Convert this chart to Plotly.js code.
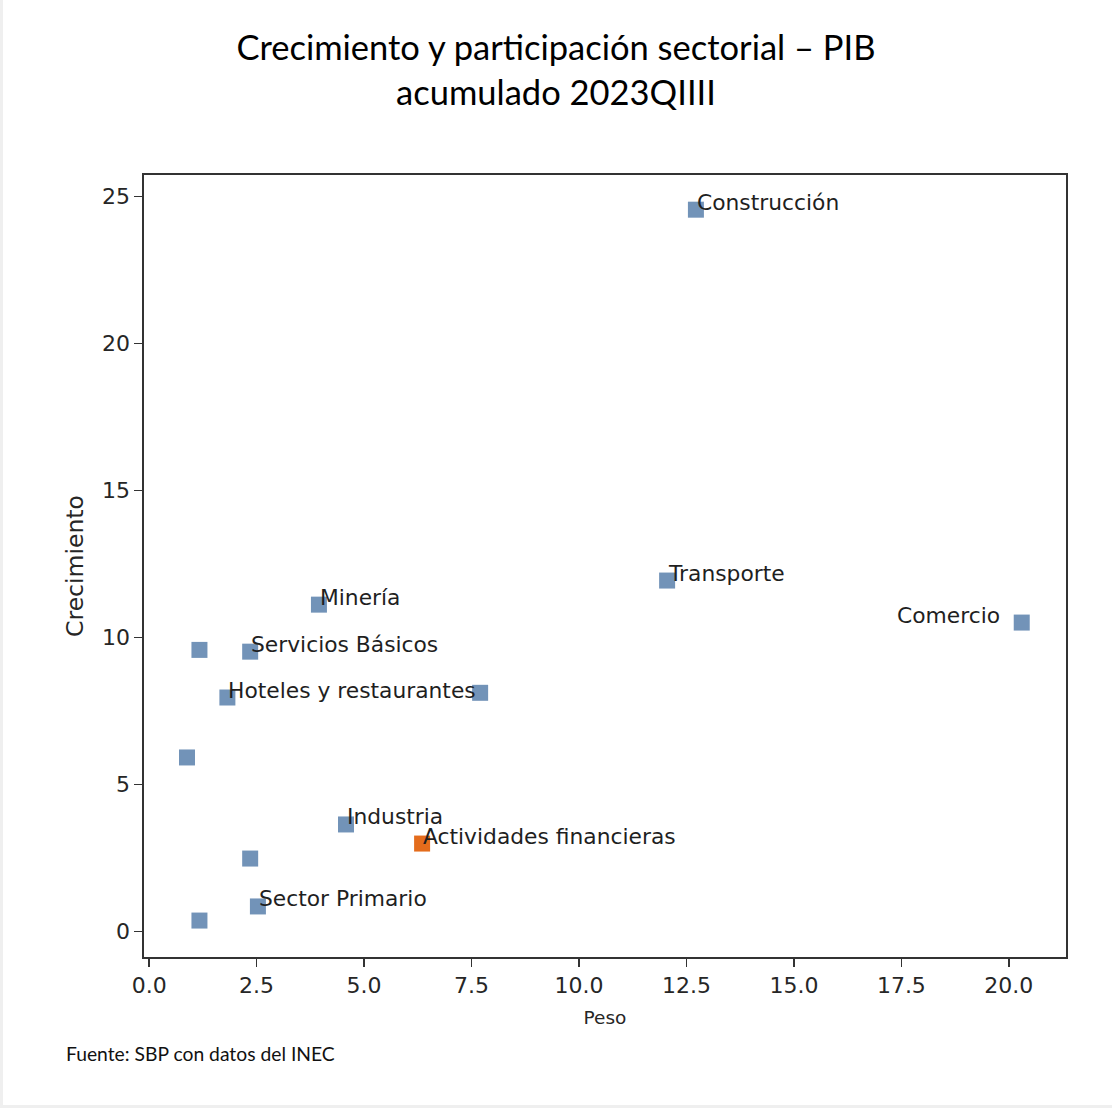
<!DOCTYPE html>
<html>
<head>
<meta charset="utf-8">
<script src="https://cdn.plot.ly/plotly-3.0.1.min.js"></script>
<style>
  html, body { margin: 0; padding: 0; background: #ffffff; }
  #wrap { position: relative; width: 1112px; height: 1108px; }
  #chart { width: 1112px; height: 1108px; }
  #frame { position: absolute; left: 0; top: 0; width: 1109px; height: 1105px;
           border-left: 3px solid #efefef; border-bottom: 3px solid #efefef; pointer-events: none; }
</style>
</head>
<body>
<div id="wrap"><div id="chart"></div><div id="frame"></div></div>
<script>
// ---- data ----
const sectores = ["Construcción", "Transporte", "Comercio", "Minería", "", "Servicios Básicos",
                  "Hoteles y restaurantes", "", "", "Industria", "Actividades financieras", "",
                  "Sector Primario", ""];
const peso = [12.72, 12.05, 20.30, 3.95, 1.17, 2.35, 1.82, 7.70, 0.88, 4.58, 6.35, 2.35, 2.53, 1.17];
const crecimiento = [24.56, 11.94, 10.51, 11.12, 9.58, 9.52, 7.96, 8.12, 5.92, 3.64, 2.99, 2.48, 0.85, 0.37];
const destacado = "Actividades financieras";
const xTicks = [0, 2.5, 5, 7.5, 10, 12.5, 15, 17.5, 20];
const xTickText = ["0.0", "2.5", "5.0", "7.5", "10.0", "12.5", "15.0", "17.5", "20.0"];
const yTicks = [0, 5, 10, 15, 20, 25];
const titulo = "Crecimiento y participación sectorial – PIB<br>acumulado 2023QIIII";
const fuente = "Fuente: SBP con datos del INEC";

// ---- styles ----
const azul = "#7293b8";
const naranja = "#e46c1c";
const txtColor = "#262626";
const lineColor = "#333333";
const labelRight = { "Comercio": true };

const colores = sectores.map(s => s === destacado ? naranja : azul);

const trace = {
  x: peso, y: crecimiento, mode: "markers", type: "scatter",
  marker: { symbol: "square", size: 16, color: colores, line: { width: 0 } },
  hoverinfo: "x+y", showlegend: false
};

const annotations = [];
sectores.forEach((s, i) => {
  if (!s) return;
  const right = !!labelRight[s];
  annotations.push({
    x: peso[i], y: crecimiento[i], xref: "x", yref: "y",
    text: s, showarrow: false,
    xanchor: right ? "right" : "left", yanchor: "bottom",
    xshift: right ? -20 : -1, yshift: -7,
    font: { family: "DejaVu Sans", size: 21.8, color: "#1f1f1f" }
  });
});
annotations.push({
  xref: "paper", yref: "paper", x: -0.0868, y: -0.1228,
  xanchor: "left", yanchor: "middle", showarrow: false,
  text: fuente, font: { family: "Lato, 'Open Sans', sans-serif", size: 19.3, color: "#111111" }
});

const layout = {
  width: 1112, height: 1108,
  paper_bgcolor: "#ffffff", plot_bgcolor: "#ffffff",
  margin: { l: 144, r: 46, t: 175, b: 151 },
  title: {
    text: titulo, x: 0.5, xref: "container", xanchor: "center",
    y: 0.9455, yref: "container", yanchor: "middle",
    font: { family: "Lato, 'Open Sans', sans-serif", size: 34.5, color: "#000000" }
  },
  xaxis: {
    range: [-0.12, 21.33], tickvals: xTicks, ticktext: xTickText,
    showgrid: false, zeroline: false,
    showline: true, mirror: true, linecolor: lineColor, linewidth: 1.6,
    ticks: "outside", ticklen: 8, tickwidth: 1.4, tickcolor: lineColor,
    tickfont: { family: "DejaVu Sans", size: 22, color: txtColor },
    title: { text: "Peso", standoff: 14, font: { family: "DejaVu Sans", size: 18.5, color: txtColor } }
  },
  yaxis: {
    range: [-0.87, 25.74], tickvals: yTicks,
    showgrid: false, zeroline: false,
    showline: true, mirror: true, linecolor: lineColor, linewidth: 1.6,
    ticks: "outside", ticklen: 8, tickwidth: 1.4, tickcolor: lineColor,
    tickfont: { family: "DejaVu Sans", size: 22, color: txtColor },
    title: { text: "Crecimiento", standoff: 12, font: { family: "DejaVu Sans", size: 23.5, color: txtColor } }
  },
  annotations: annotations
};

Plotly.newPlot("chart", [trace], layout, { displayModeBar: false, staticPlot: true });
</script>
</body>
</html>
